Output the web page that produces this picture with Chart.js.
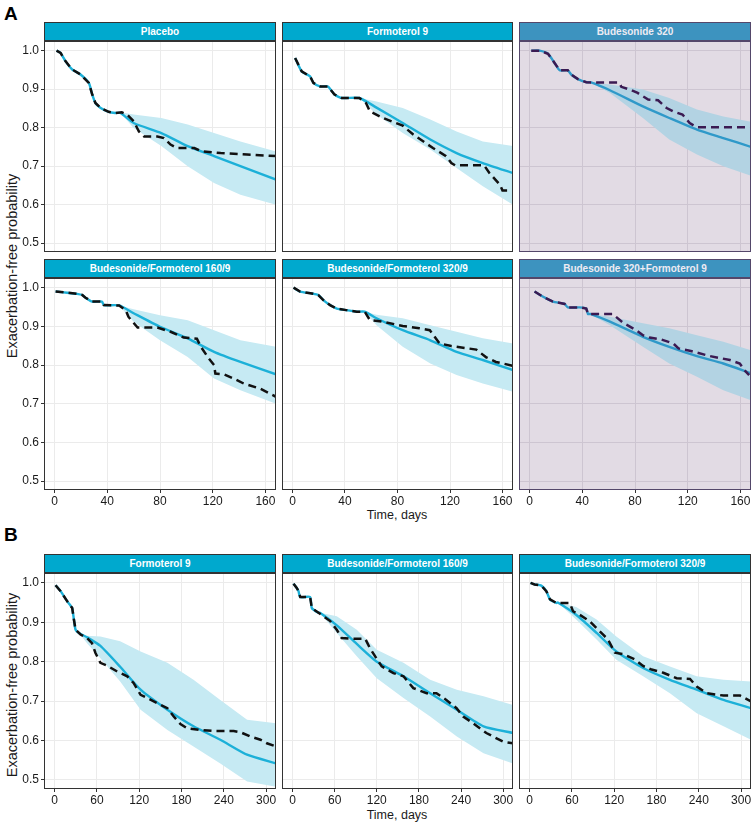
<!DOCTYPE html>
<html>
<head>
<meta charset="utf-8">
<script src="https://cdn.jsdelivr.net/npm/chart.js@4.4.0/dist/chart.umd.min.js"></script>
<style>
body { margin: 0; background: #fff; font-family: "Liberation Sans", Arial, sans-serif; }
#wrap { position: relative; width: 753px; height: 823px; overflow: hidden; }
canvas { position: absolute; }
.strip { position: absolute; box-sizing: border-box; height: 19px; line-height: 17px; border: 1px solid #333;
         color: #fff; font-weight: bold; font-size: 10px; text-align: center; white-space: nowrap; }
.tag { position: absolute; font-weight: bold; font-size: 19px; line-height: 19px; color: #000; }
.ytitle { position: absolute; transform: translate(-50%, -50%) rotate(-90deg); white-space: nowrap; font-size: 14.5px; color: #1a1a1a; }
.xtitle { position: absolute; transform: translate(-50%, -50%); white-space: nowrap; font-size: 12.5px; color: #1a1a1a; }
</style>
</head>
<body>
<div id="wrap">
  <div class="tag" style="left:4px;top:4px">A</div>
  <div class="tag" style="left:4px;top:525px">B</div>
  <div class="ytitle" style="left:12px;top:266px">Exacerbation-free probability</div>
  <div class="ytitle" style="left:12px;top:685px">Exacerbation-free probability</div>
  <div class="xtitle" style="left:397px;top:515px">Time, days</div>
  <div class="xtitle" style="left:397px;top:815px">Time, days</div>
</div>
<script>
// Tick labels
const yTicks = [0.5, 0.6, 0.7, 0.8, 0.9, 1.0];
const ticksA = [0, 40, 80, 120, 160];
const ticksB = [0, 60, 120, 180, 240, 300];

// Observed Kaplan-Meier curves: [day, probability]
const placeboKm = [[1.5,1.0],[4.6,0.994],[8.4,0.972],[13.4,0.951],[19.7,0.938],[26,0.916],[28.6,0.886],[31,0.864],[35,0.851],[41,0.841],[46,0.838],[51,0.84],[55,0.834],[60,0.817],[64,0.79],[68,0.777],[78,0.777],[83,0.773],[88,0.756],[93,0.747],[106,0.747],[111,0.739],[126,0.734],[146,0.73],[168,0.726]];
const formoterolAKm = [[2,0.981],[7,0.946],[13.4,0.933],[16,0.916],[21,0.907],[27,0.907],[32,0.886],[37.5,0.877],[51,0.877],[56,0.864],[59,0.842],[69,0.825],[84,0.805],[92,0.782],[107,0.747],[117,0.726],[121,0.708],[124,0.702],[146,0.702],[150,0.682],[158,0.652],[160,0.637],[168,0.637]];
const bud320Km = [[1.3,1.0],[7.6,1.0],[14,0.992],[19,0.968],[22.8,0.949],[29,0.949],[31.6,0.938],[36.7,0.926],[43,0.918],[50.6,0.917],[68,0.917],[69.6,0.906],[76,0.899],[82,0.89],[90,0.873],[97.5,0.871],[104,0.851],[109,0.842],[116,0.834],[121.5,0.812],[126.6,0.801],[168,0.801]];
const bf160AKm = [[0.8,0.99],[9.6,0.987],[17,0.984],[21,0.981],[23.5,0.974],[28.6,0.964],[36,0.964],[37.4,0.955],[49,0.954],[54,0.942],[56,0.925],[63,0.897],[78,0.897],[88,0.886],[98,0.871],[108,0.868],[111,0.847],[117,0.817],[121,0.8],[122,0.778],[128.6,0.776],[136,0.765],[143.6,0.752],[156,0.739],[168,0.718]];
const bf320AKm = [[0.8,1.0],[5.8,0.99],[14.7,0.985],[19.7,0.981],[23.5,0.968],[28.6,0.955],[33.7,0.946],[41,0.942],[49,0.938],[55,0.938],[59,0.916],[69,0.912],[84,0.901],[96.7,0.895],[104.6,0.89],[112,0.856],[121,0.849],[140,0.84],[147.6,0.82],[155,0.808],[168,0.798]];
const budFormKm = [[3.8,0.99],[10,0.977],[17.7,0.964],[26.6,0.958],[29,0.949],[38,0.949],[43,0.946],[44.3,0.932],[48,0.932],[63,0.932],[71,0.909],[81,0.89],[86,0.877],[91,0.871],[100,0.866],[109,0.856],[113,0.843],[121.5,0.837],[137,0.823],[152,0.813],[159.5,0.804],[163,0.787],[166.6,0.774]];
const formoterolBKm = [[1.4,0.994],[8.5,0.979],[18,0.953],[22.7,0.942],[25,0.936],[27.4,0.907],[29.8,0.881],[36.8,0.869],[46,0.86],[53,0.847],[58,0.822],[65,0.797],[74.6,0.79],[88.8,0.775],[103,0.763],[112,0.746],[122,0.716],[131,0.708],[150,0.691],[160,0.682],[169,0.661],[178.5,0.642],[188,0.631],[207,0.627],[226,0.624],[254,0.624],[263.6,0.621],[277.7,0.61],[292,0.602],[301,0.593],[314,0.585]];
const bf160BKm = [[1.4,0.998],[6,0.987],[8.5,0.979],[11,0.964],[25,0.964],[27.5,0.936],[37,0.924],[53.6,0.903],[63,0.881],[70,0.86],[87,0.858],[103.6,0.858],[110,0.835],[117.5,0.814],[127,0.788],[143.6,0.771],[158,0.763],[172,0.733],[191,0.72],[205,0.72],[219,0.703],[233.6,0.682],[243,0.661],[257,0.644],[276,0.619],[300,0.597],[314,0.593]];
const bf320BKm = [[1.4,1.0],[7,0.996],[16.6,0.993],[23.7,0.979],[29,0.958],[38,0.949],[57,0.949],[61.6,0.928],[71,0.919],[85,0.903],[104,0.869],[111,0.857],[121,0.823],[132.7,0.819],[149,0.806],[161,0.789],[173,0.78],[189.6,0.772],[208.5,0.758],[227.5,0.756],[237,0.737],[251,0.72],[275,0.714],[298.6,0.714],[314,0.699]];

// Model prediction bands: [day, lower, median, upper]
const placeboBand = [[50,0.838,0.838,0.84],[60,0.799,0.812,0.834],[81,0.752,0.786,0.825],[101,0.7,0.752,0.808],[121,0.656,0.726,0.786],[141,0.626,0.7,0.764],[168,0.6,0.665,0.738]];
const formoterolABand = [[51,0.877,0.877,0.877],[64,0.834,0.852,0.868],[84,0.786,0.812,0.851],[105,0.743,0.769,0.821],[125,0.695,0.734,0.79],[145,0.648,0.708,0.764],[168,0.6,0.682,0.752]];
const bud320Band = [[46,0.918,0.918,0.918],[61,0.89,0.897,0.912],[86,0.825,0.855,0.899],[106,0.769,0.825,0.877],[127,0.73,0.795,0.847],[147,0.7,0.773,0.829],[168,0.675,0.75,0.815]];
const bf160ABand = [[49,0.954,0.954,0.954],[60,0.912,0.934,0.944],[80,0.864,0.899,0.929],[101,0.821,0.869,0.916],[121,0.765,0.834,0.89],[141,0.735,0.808,0.864],[168,0.7,0.776,0.847]];
const bf320ABand = [[55,0.938,0.938,0.938],[64,0.903,0.921,0.93],[84,0.847,0.89,0.921],[105,0.804,0.864,0.903],[125,0.774,0.834,0.886],[145,0.752,0.813,0.869],[168,0.731,0.787,0.856]];
const budFormBand = [[46,0.932,0.932,0.932],[61,0.903,0.912,0.925],[86,0.847,0.873,0.908],[106,0.804,0.847,0.895],[127,0.77,0.823,0.877],[147,0.735,0.804,0.86],[168,0.709,0.779,0.838]];
const formoterolBBand = [[35,0.872,0.872,0.872],[46,0.847,0.862,0.866],[65,0.809,0.84,0.864],[93,0.75,0.787,0.852],[122,0.678,0.729,0.826],[160,0.627,0.678,0.797],[197,0.585,0.636,0.754],[235,0.542,0.602,0.703],[273,0.496,0.564,0.653],[314,0.483,0.542,0.644]];
const bf160BBand = [[39,0.924,0.924,0.924],[63,0.873,0.892,0.915],[91.5,0.814,0.845,0.881],[120,0.758,0.8,0.83],[158,0.708,0.763,0.797],[196,0.661,0.72,0.754],[234,0.61,0.678,0.729],[272,0.568,0.636,0.712],[314,0.542,0.619,0.69]];
const bf320BBand = [[40,0.95,0.95,0.95],[66,0.907,0.919,0.939],[95,0.856,0.873,0.907],[123,0.805,0.826,0.864],[161,0.763,0.784,0.814],[199,0.72,0.754,0.788],[237,0.669,0.729,0.763],[275,0.636,0.703,0.754],[314,0.602,0.682,0.75]];

const normalColors = { strip: '#00a9ce', text: '#ffffff', line: '#1cb0d8', ribbon: '#c6eaf3', km: '#111111',
    grid: '#ebebeb', bg: '#ffffff', border: '#333333' };
const budColors = { strip: '#3d93bf', text: '#eeebf3', line: '#2f99c9', ribbon: '#b3d3e3', km: '#3b1a52',
    grid: '#cdc5d1', bg: '#e2dbe4', border: '#54476a' };

const colLeft = [44, 282, 519];
const colWidth = [232, 231, 232];
const rows = {
    A1: { top: 41, h: 211, showX: false, xMin: -8, xMax: 168, xTicks: ticksA },
    A2: { top: 278, h: 212, showX: true, xMin: -8, xMax: 168, xTicks: ticksA },
    B: { top: 573, h: 216, showX: true, xMin: -15, xMax: 314, xTicks: ticksB }
};

const panels = [
    { title: 'Placebo', km: placeboKm, band: placeboBand, row: 'A1', col: 0, bud: false },
    { title: 'Formoterol 9', km: formoterolAKm, band: formoterolABand, row: 'A1', col: 1, bud: false },
    { title: 'Budesonide 320', km: bud320Km, band: bud320Band, row: 'A1', col: 2, bud: true },
    { title: 'Budesonide/Formoterol 160/9', km: bf160AKm, band: bf160ABand, row: 'A2', col: 0, bud: false },
    { title: 'Budesonide/Formoterol 320/9', km: bf320AKm, band: bf320ABand, row: 'A2', col: 1, bud: false },
    { title: 'Budesonide 320+Formoterol 9', km: budFormKm, band: budFormBand, row: 'A2', col: 2, bud: true },
    { title: 'Formoterol 9', km: formoterolBKm, band: formoterolBBand, row: 'B', col: 0, bud: false },
    { title: 'Budesonide/Formoterol 160/9', km: bf160BKm, band: bf160BBand, row: 'B', col: 1, bud: false },
    { title: 'Budesonide/Formoterol 320/9', km: bf320BKm, band: bf320BBand, row: 'B', col: 2, bud: false }
];

const FONT = '"Liberation Sans", Arial, sans-serif';
const toXY = pts => pts.map(p => ({ x: p[0], y: p[1] }));

// Panel background and border
const panelFrame = {
    id: 'panelFrame',
    beforeDraw: (chart, args, opts) => {
        const a = chart.chartArea, ctx = chart.ctx;
        ctx.save();
        ctx.fillStyle = opts.bg;
        ctx.fillRect(a.left, a.top, a.right - a.left, a.bottom - a.top);
        ctx.restore();
    },
    afterDraw: (chart, args, opts) => {
        const a = chart.chartArea, ctx = chart.ctx;
        ctx.save();
        ctx.strokeStyle = opts.border;
        ctx.lineWidth = 1;
        ctx.strokeRect(a.left + 0.5, a.top + 0.5, a.right - a.left - 1, a.bottom - a.top - 1);
        ctx.restore();
    }
};

const wrap = document.getElementById('wrap');

const makePanel = (p) => {
    const row = rows[p.row];
    const pal = p.bud ? budColors : normalColors;
    const left = colLeft[p.col], w = colWidth[p.col];
    const lm = p.col === 0 ? 44 : 0;
    const bm = row.showX ? 20 : 0;

    // Strip header
    const strip = document.createElement('div');
    strip.className = 'strip';
    strip.style.left = left + 'px';
    strip.style.top = (row.top - 19) + 'px';
    strip.style.width = w + 'px';
    strip.style.background = pal.strip;
    strip.style.color = pal.text;
    strip.style.borderColor = pal.border;
    strip.textContent = p.title;
    wrap.appendChild(strip);

    const cv = document.createElement('canvas');
    cv.width = w + lm;
    cv.height = row.h + bm;
    cv.style.left = (left - lm) + 'px';
    cv.style.top = row.top + 'px';
    cv.style.width = (w + lm) + 'px';
    cv.style.height = (row.h + bm) + 'px';
    wrap.appendChild(cv);

    const start = p.band[0][0];
    const obs = p.km.filter(q => q[0] < start);
    const solid = obs.concat(p.band.map(b => [b[0], b[2]]));

    new Chart(cv, {
        type: 'line',
        data: {
            datasets: [
                { data: toXY(p.band.map(b => [b[0], b[1]])), borderColor: 'transparent', borderWidth: 0, pointRadius: 0, fill: false, order: 3 },
                { data: toXY(p.band.map(b => [b[0], b[3]])), borderColor: 'transparent', borderWidth: 0, pointRadius: 0, fill: '-1', backgroundColor: pal.ribbon, order: 2 },
                { data: toXY(solid), borderColor: pal.line, borderWidth: 2.4, pointRadius: 0, fill: false, tension: 0.2, order: 1 },
                { data: toXY(p.km), borderColor: pal.km, borderWidth: 2.5, borderDash: [8, 5], pointRadius: 0, fill: false, order: 0 }
            ]
        },
        options: {
            responsive: false,
            animation: false,
            devicePixelRatio: 1,
            layout: { padding: 0 },
            plugins: {
                legend: { display: false },
                tooltip: { enabled: false },
                panelFrame: { bg: pal.bg, border: pal.border }
            },
            scales: {
                x: {
                    type: 'linear',
                    min: row.xMin,
                    max: row.xMax,
                    afterBuildTicks: axis => { axis.ticks = row.xTicks.map(v => ({ value: v })); },
                    afterFit: s => { s.height = bm; s.paddingLeft = 0; s.paddingRight = 0; },
                    border: { display: false },
                    grid: { color: pal.grid, lineWidth: 1, drawTicks: row.showX, tickLength: 3, tickColor: '#333', tickWidth: 1 },
                    ticks: { display: row.showX, color: '#1a1a1a', font: { size: 12, family: FONT }, padding: 1, maxRotation: 0, autoSkip: false }
                },
                y: {
                    type: 'linear',
                    min: 0.477,
                    max: 1.025,
                    afterBuildTicks: axis => { axis.ticks = yTicks.map(v => ({ value: v })); },
                    afterFit: s => { s.width = lm; s.paddingTop = 0; s.paddingBottom = 0; },
                    border: { display: false },
                    grid: { color: pal.grid, lineWidth: 1, drawTicks: lm > 0, tickLength: 3, tickColor: '#333', tickWidth: 1 },
                    ticks: { display: lm > 0, color: '#1a1a1a', font: { size: 12, family: FONT }, padding: 2,
                             callback: v => v.toFixed(1) }
                }
            }
        },
        plugins: [panelFrame]
    });
};

panels.forEach(makePanel);
</script>
</body>
</html>
